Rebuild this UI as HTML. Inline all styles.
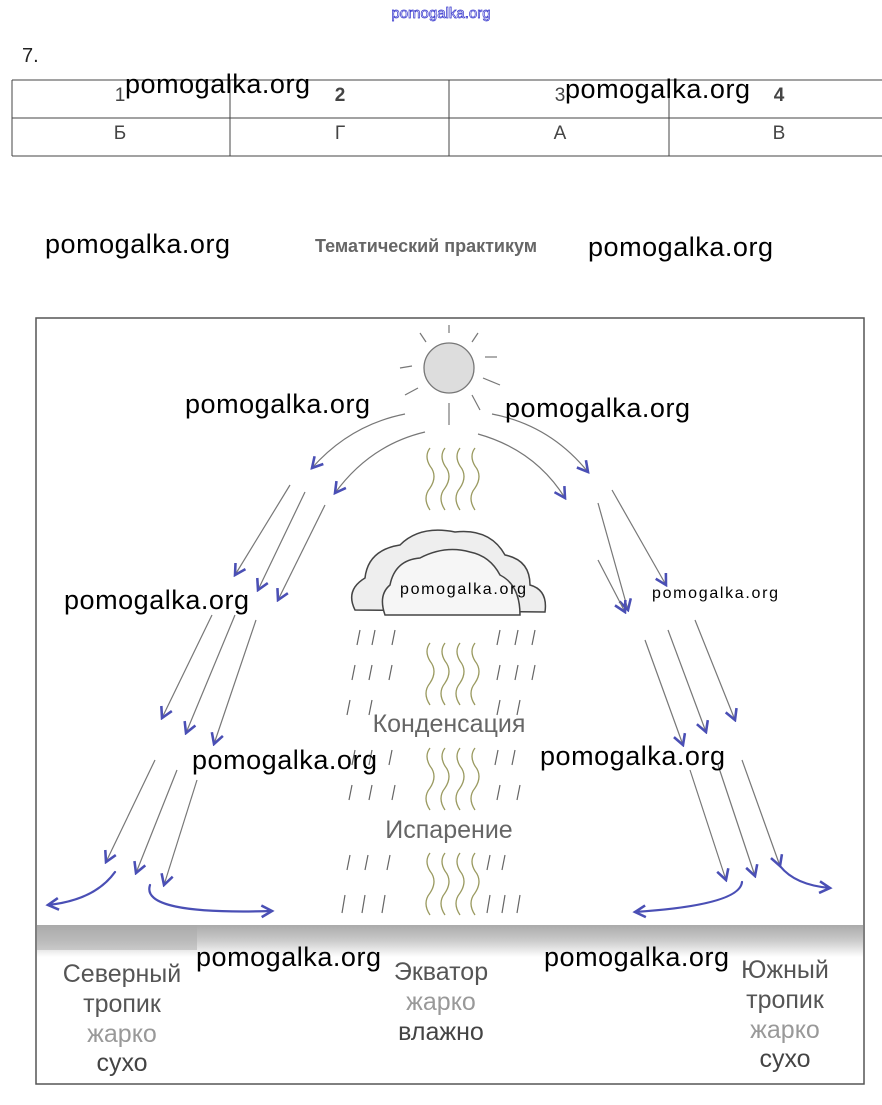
<!DOCTYPE html>
<html><head><meta charset="utf-8"><style>
body{margin:0;background:#fff}
svg{display:block}
text{font-family:"Liberation Sans",sans-serif}
.wm{font-family:"Liberation Sans",sans-serif;font-size:27px;fill:#000}
.g{stroke:#777;stroke-width:1.2;fill:none}
.b{stroke:#4a4fb5;stroke-width:2.2;fill:none;stroke-linecap:round;stroke-linejoin:round}
.w{stroke:#9a9a60;stroke-width:1.3;fill:none}
.r{stroke:#666;stroke-width:1.2}
</style></head><body>
<svg width="882" height="1105" viewBox="0 0 882 1105" xmlns="http://www.w3.org/2000/svg">
<defs>
<marker id="ah" viewBox="0 0 12 12" refX="10" refY="6" markerWidth="14" markerHeight="14" orient="auto" markerUnits="userSpaceOnUse">
<path d="M1,1 L10,6 L1,11" fill="none" stroke="#4a4fb5" stroke-width="2.2"/></marker>
<linearGradient id="gr" x1="0" y1="0" x2="0" y2="1"><stop offset="0" stop-color="#aaa"/><stop offset="0.5" stop-color="#ccc"/><stop offset="1" stop-color="#fff"/></linearGradient>
</defs>
<text x="441" y="18" text-anchor="middle" font-size="15" fill="#fff" stroke="#3333cc" stroke-width="0.7">pomogalka.org</text>
<text x="22" y="62" font-size="20" fill="#222">7.</text>
<g stroke="#444" stroke-width="1">
<line x1="12" y1="80" x2="882" y2="80"/><line x1="12" y1="118" x2="882" y2="118"/><line x1="12" y1="156" x2="882" y2="156"/>
<line x1="12" y1="80" x2="12" y2="156"/><line x1="230" y1="80" x2="230" y2="156"/><line x1="449" y1="80" x2="449" y2="156"/><line x1="669" y1="80" x2="669" y2="156"/>
</g>
<g font-size="19" fill="#444" text-anchor="middle">
<text x="120" y="101">1</text><text x="340" y="101" font-weight="bold">2</text><text x="560" y="101">3</text><text x="779" y="101" font-weight="bold">4</text>
<text x="120" y="139">Б</text><text x="340" y="139">Г</text><text x="560" y="139">А</text><text x="779" y="139">В</text>
</g>
<text x="315" y="252" font-size="18" font-weight="bold" fill="#666">Тематический практикум</text>
<rect x="36" y="318" width="828" height="766" fill="none" stroke="#555" stroke-width="1.5"/>
<rect x="37" y="925" width="826" height="32" fill="url(#gr)"/>
<rect x="37" y="925" width="160" height="25" fill="#aaa" opacity="0.5"/>
<!-- sun -->
<circle cx="449" cy="368" r="25" fill="#ddd" stroke="#777" stroke-width="1.3"/>
<g class="g"><line x1="449" y1="325" x2="449" y2="333"/><line x1="420" y1="333" x2="426" y2="342"/><line x1="478" y1="333" x2="472" y2="342"/><line x1="400" y1="368" x2="412" y2="366"/><line x1="485" y1="357" x2="497" y2="357"/><line x1="483" y1="378" x2="500" y2="385"/><line x1="405" y1="395" x2="418" y2="388"/><line x1="472" y1="395" x2="480" y2="410"/><line x1="449" y1="403" x2="449" y2="425"/></g>
<!-- cloud -->
<path d="M355,610 Q345,590 365,578 Q368,550 400,545 Q420,525 455,532 Q490,528 505,555 Q530,560 530,585 Q548,590 545,612 Z" fill="#eee" stroke="#444" stroke-width="1.5"/>
<path d="M385,615 Q378,595 390,585 Q395,560 420,558 Q445,545 470,552 Q490,556 500,575 Q520,585 520,615 Z" fill="#f6f6f6" stroke="#444" stroke-width="1.5"/>
<!-- rain -->
<g class="r">
<path d="M360,630l-3,15M375,630l-3,15M395,630l-3,15M500,630l-3,15M518,630l-3,15M535,630l-3,15
M355,665l-3,15M372,665l-3,15M392,665l-3,15M500,665l-3,15M518,665l-3,15M535,665l-3,15
M350,700l-3,15M372,700l-3,15M500,700l-3,15M520,700l-3,15
M355,750l-3,15M372,750l-3,15M392,750l-3,15M498,750l-3,15M515,750l-3,15
M352,785l-3,15M372,785l-3,15M395,785l-3,15M500,785l-3,15M520,785l-3,15
M350,855l-3,15M368,855l-3,15M390,855l-3,15M490,855l-3,15M505,855l-3,15
M345,895l-3,18M365,895l-3,18M385,895l-3,18M490,895l-3,18M505,895l-3,18M520,895l-3,18"/>
</g>
<!-- wavy -->
<g class="w">
<path d="M430,510 q-8,-12 0,-22 q8,-12 0,-22 q-6,-10 0,-18"/><path d="M445,510 q-8,-12 0,-22 q8,-12 0,-22 q-6,-10 0,-18"/><path d="M460,510 q-8,-12 0,-22 q8,-12 0,-22 q-6,-10 0,-18"/><path d="M475,510 q-8,-12 0,-22 q8,-12 0,-22 q-6,-10 0,-18"/>
<path d="M430,705 q-8,-12 0,-22 q8,-12 0,-22 q-6,-10 0,-18"/><path d="M445,705 q-8,-12 0,-22 q8,-12 0,-22 q-6,-10 0,-18"/><path d="M460,705 q-8,-12 0,-22 q8,-12 0,-22 q-6,-10 0,-18"/><path d="M475,705 q-8,-12 0,-22 q8,-12 0,-22 q-6,-10 0,-18"/>
<path d="M430,810 q-8,-12 0,-22 q8,-12 0,-22 q-6,-10 0,-18"/><path d="M445,810 q-8,-12 0,-22 q8,-12 0,-22 q-6,-10 0,-18"/><path d="M460,810 q-8,-12 0,-22 q8,-12 0,-22 q-6,-10 0,-18"/><path d="M475,810 q-8,-12 0,-22 q8,-12 0,-22 q-6,-10 0,-18"/>
<path d="M430,915 q-8,-12 0,-22 q8,-12 0,-22 q-6,-10 0,-18"/><path d="M445,915 q-8,-12 0,-22 q8,-12 0,-22 q-6,-10 0,-18"/><path d="M460,915 q-8,-12 0,-22 q8,-12 0,-22 q-6,-10 0,-18"/><path d="M475,915 q-8,-12 0,-22 q8,-12 0,-22 q-6,-10 0,-18"/>
</g>
<!-- arrows -->
<g class="g" marker-end="url(#ah)">
<path d="M405,414 Q350,425 312,468"/><path d="M425,432 Q370,445 335,493"/>
<path d="M492,414 Q550,425 588,472"/><path d="M478,434 Q535,450 565,498"/>
<path d="M290,485 L235,575"/><path d="M305,492 L258,590"/><path d="M325,505 L278,600"/>
<path d="M212,615 L162,718"/><path d="M235,615 L186,733"/><path d="M256,620 L214,744"/>
<path d="M155,760 L106,862"/><path d="M177,770 L136,873"/><path d="M197,780 L164,885"/>
<path d="M598,503 L628,610"/><path d="M612,490 L666,585"/><path d="M598,560 L625,612"/>
<path d="M645,640 L683,745"/><path d="M668,630 L706,732"/><path d="M695,620 L735,720"/>
<path d="M690,770 L726,880"/><path d="M718,765 L755,876"/><path d="M742,760 L780,866"/>
</g>
<g class="b" marker-end="url(#ah)">
<path d="M115,872 Q95,900 48,905"/><path d="M150,885 Q140,915 272,911"/>
<path d="M742,882 Q740,905 635,912"/><path d="M780,866 Q795,885 830,888"/>
</g>
<!-- labels -->
<g font-size="25" text-anchor="middle">
<text x="449" y="732" fill="#666">Конденсация</text>
<text x="449" y="838" fill="#666">Испарение</text>
<text x="122" y="982" fill="#555">Северный</text><text x="122" y="1012" fill="#555">тропик</text><text x="122" y="1042" fill="#999">жарко</text><text x="122" y="1071" fill="#444">сухо</text>
<text x="441" y="980" fill="#555">Экватор</text><text x="441" y="1010" fill="#999">жарко</text><text x="441" y="1040" fill="#444">влажно</text>
<text x="785" y="978" fill="#555">Южный</text><text x="785" y="1008" fill="#555">тропик</text><text x="785" y="1038" fill="#999">жарко</text><text x="785" y="1067" fill="#444">сухо</text>
</g>
<!-- watermarks -->
<g class="wm">
<text x="125" y="93" textLength="185">pomogalka.org</text><text x="565" y="98" textLength="185">pomogalka.org</text>
<text x="45" y="253" textLength="185">pomogalka.org</text><text x="588" y="256" textLength="185">pomogalka.org</text>
<text x="185" y="413" textLength="185">pomogalka.org</text><text x="505" y="417" textLength="185">pomogalka.org</text>
<text x="64" y="609" textLength="185">pomogalka.org</text><text x="192" y="769" textLength="185">pomogalka.org</text><text x="540" y="765" textLength="185">pomogalka.org</text>
<text x="196" y="966" textLength="185">pomogalka.org</text><text x="544" y="966" textLength="185">pomogalka.org</text>
<text x="400" y="594" font-size="16" textLength="126">pomogalka.org</text><text x="652" y="598" font-size="16" textLength="126">pomogalka.org</text>
</g>
</svg>
</body></html>
